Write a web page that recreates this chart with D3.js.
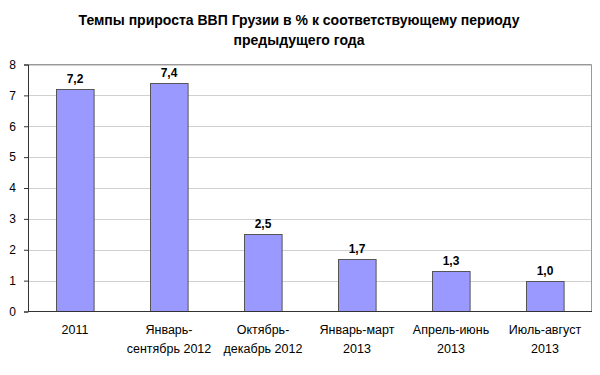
<!DOCTYPE html>
<html>
<head>
<meta charset="utf-8">
<script src="https://cdn.jsdelivr.net/npm/d3@7"></script>
<style>
  body { margin: 0; background: #fff; }
  svg { font-family: "Liberation Sans", Arial, sans-serif; }
</style>
</head>
<body>
<svg id="chart" width="600" height="375"></svg>
<script>
// Данные графика
const categories = [
  ["2011"],
  ["Январь-", "сентябрь 2012"],
  ["Октябрь-", "декабрь 2012"],
  ["Январь-март", "2013"],
  ["Апрель-июнь", "2013"],
  ["Июль-август", "2013"]
];
const values = [7.2, 7.4, 2.5, 1.7, 1.3, 1.0];
const yTicks = [0, 1, 2, 3, 4, 5, 6, 7, 8];
const titleLines = [
  "Темпы прироста ВВП Грузии в % к соответствующему периоду",
  "предыдущего года"
];

const margin = { top: 64.5, right: 8, bottom: 63.5, left: 28 };
const width = 600, height = 375;

const svg = d3.select("#chart");

const x = d3.scaleBand()
  .domain(d3.range(values.length))
  .range([margin.left, width - margin.right])
  .paddingInner(0.6)
  .paddingOuter(0.3);

const y = d3.scaleLinear()
  .domain([0, 8])
  .range([height - margin.bottom, margin.top]);

// Заголовок
svg.append("g")
  .selectAll("text")
  .data(titleLines)
  .join("text")
  .attr("x", 299)
  .attr("y", (d, i) => 25 + i * 20)
  .attr("text-anchor", "middle")
  .style("font-size", "14px")
  .style("font-weight", "bold")
  .attr("fill", "#000")
  .text(d => d);

// Сетка
svg.append("g")
  .selectAll("line")
  .data(yTicks.slice(1))
  .join("line")
  .attr("x1", margin.left)
  .attr("x2", width - margin.right)
  .attr("y1", d => Math.round(y(d)) + 0.5)
  .attr("y2", d => Math.round(y(d)) + 0.5)
  .attr("stroke", "#d0d0d0");

// Рамка области построения (верх и право)
svg.append("path")
  .attr("d", `M${margin.left},${margin.top}H${width - margin.right - 0.5}V${height - margin.bottom}`)
  .attr("fill", "none")
  .attr("stroke", "#999");

// Столбцы
svg.append("g")
  .selectAll("rect")
  .data(values)
  .join("rect")
  .attr("x", (d, i) => Math.round(x(i)) + 0.5)
  .attr("y", d => Math.round(y(d)) + 0.5)
  .attr("width", x.bandwidth())
  .attr("height", d => y(0) - Math.round(y(d)) - 0.5)
  .attr("fill", "#9999ff")
  .attr("stroke", "#555")
  .attr("stroke-width", 1);

// Подписи значений
svg.append("g")
  .selectAll("text")
  .data(values)
  .join("text")
  .attr("x", (d, i) => x(i) + x.bandwidth() / 2)
  .attr("y", d => y(d) - 6)
  .attr("text-anchor", "middle")
  .style("font-size", "12px")
  .style("font-weight", "bold")
  .text(d => d.toFixed(1).replace(".", ","));

// Ось Y
const yAxis = svg.append("g")
  .attr("transform", `translate(${margin.left},0)`)
  .call(d3.axisLeft(y).tickValues(yTicks).tickSize(4).tickPadding(8).tickFormat(d3.format("d")));
yAxis.select(".domain").attr("stroke", "#333");
yAxis.selectAll(".tick line").attr("stroke", "#333");
yAxis.selectAll("text").style("font-size", "12px").attr("fill", "#000");

// Ось X
svg.append("line")
  .attr("x1", margin.left)
  .attr("x2", width - margin.right)
  .attr("y1", y(0))
  .attr("y2", y(0))
  .attr("stroke", "#333");

const xLabels = svg.append("g")
  .selectAll("text")
  .data(categories)
  .join("text")
  .attr("x", (d, i) => x(i) + x.bandwidth() / 2)
  .attr("y", 334)
  .attr("text-anchor", "middle")
  .style("font-size", "12.5px")
  .attr("fill", "#000");

xLabels.selectAll("tspan")
  .data(d => d)
  .join("tspan")
  .attr("x", function() { return d3.select(this.parentNode).attr("x"); })
  .attr("dy", (d, i) => i === 0 ? 0 : 19)
  .text(d => d);
</script>
</body>
</html>
